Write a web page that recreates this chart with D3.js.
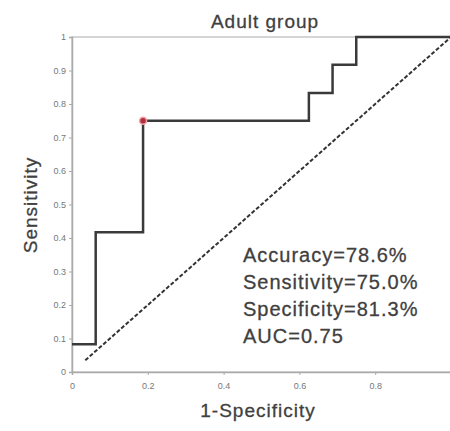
<!doctype html>
<html lang="en">
<head>
<meta charset="utf-8">
<title>Adult group ROC</title>
<script src="https://d3js.org/d3.v7.min.js"></script>
<style>
  body { margin: 0; background: #fff; }
  .tick text { font-family: "Liberation Sans", Arial, sans-serif; font-size: 9px; fill: #777; }
  .lbl { font-family: "Liberation Sans", Arial, sans-serif; fill: #404040; stroke: #404040; stroke-width: 0.3px; }
</style>
</head>
<body>
<svg id="main" width="450" height="431"></svg>
<script>
// ROC curve points (1-specificity, sensitivity)
let fpr = [0, 0.0625, 0.0625, 0.1875, 0.1875, 0.625, 0.625, 0.6875, 0.6875, 0.75, 0.75, 1];
let tpr = [0.083, 0.083, 0.417, 0.417, 0.75, 0.75, 0.833, 0.833, 0.917, 0.917, 1, 1];
let cutoff = [0.1875, 0.75];
let diag = [0.035, 1];
let xTicks = [0, 0.2, 0.4, 0.6, 0.8];
let yTicks = [0, 0.1, 0.2, 0.3, 0.4, 0.5, 0.6, 0.7, 0.8, 0.9, 1];
let stats = ["Accuracy=78.6%", "Sensitivity=75.0%", "Specificity=81.3%", "AUC=0.75"];

let svg = d3.select('#main');
let x = d3.scaleLinear().domain([0, 1]).range([72, 451]);
let y = d3.scaleLinear().domain([0, 1]).range([372, 37]);

// frame
svg.append('rect').attr('x', x(0)).attr('y', y(1)).attr('width', x(1) - x(0)).attr('height', y(0) - y(1))
  .attr('fill', 'none').attr('stroke', '#c8c8c8').attr('stroke-width', 1.5);

svg.append('g').attr('transform', 'translate(0,372)')
  .call(d3.axisBottom(x).tickValues(xTicks).tickSize(3).tickFormat(d3.format('~g')))
  .call(g => g.select('.domain').attr('stroke', '#aaa').attr('stroke-width', 1.5))
  .call(g => g.selectAll('.tick line').attr('stroke', '#aaa'))
  .call(g => g.selectAll('.tick text').attr('dy', '1.2em'));

svg.append('g').attr('transform', 'translate(72,0)')
  .call(d3.axisLeft(y).tickValues(yTicks).tickSize(3).tickFormat(d3.format('~g')))
  .call(g => g.select('.domain').attr('stroke', '#aaa').attr('stroke-width', 1.5))
  .call(g => g.selectAll('.tick line').attr('stroke', '#aaa'));

// diagonal
svg.append('line')
  .attr('x1', x(diag[0])).attr('y1', y(diag[0])).attr('x2', x(diag[1])).attr('y2', y(diag[1]))
  .attr('stroke', '#333').attr('stroke-width', 2).attr('stroke-dasharray', '4,2');

// ROC
let pts = fpr.map((v, i) => [v, tpr[i]]);
svg.append('path').datum(pts)
  .attr('d', d3.line().x(d => x(d[0])).y(d => y(d[1])))
  .attr('fill', 'none').attr('stroke', '#3a3a3a').attr('stroke-width', 2.5);

svg.append('circle').attr('cx', x(cutoff[0])).attr('cy', y(cutoff[1])).attr('r', 3.5)
  .attr('fill', '#b03040').attr('stroke', '#f3a0a8').attr('stroke-width', 1.5);

// texts
svg.append('text').attr('class', 'lbl').attr('x', 265).attr('y', 28).attr('text-anchor', 'middle')
  .attr('font-size', 19).attr('letter-spacing', 1).text('Adult group');
svg.append('text').attr('class', 'lbl').attr('x', 258).attr('y', 417).attr('text-anchor', 'middle')
  .attr('font-size', 19).attr('letter-spacing', 1).text('1-Specificity');
svg.append('text').attr('class', 'lbl').attr('transform', 'translate(37,205) rotate(-90)')
  .attr('text-anchor', 'middle').attr('font-size', 19).attr('letter-spacing', 1).text('Sensitivity');

svg.selectAll('.stat').data(stats).enter().append('text').attr('class', 'lbl stat')
  .attr('x', 243).attr('y', (d, i) => 262 + i * 27).attr('font-size', 20)
  .attr('letter-spacing', 1).text(d => d);
</script>
</body>
</html>
